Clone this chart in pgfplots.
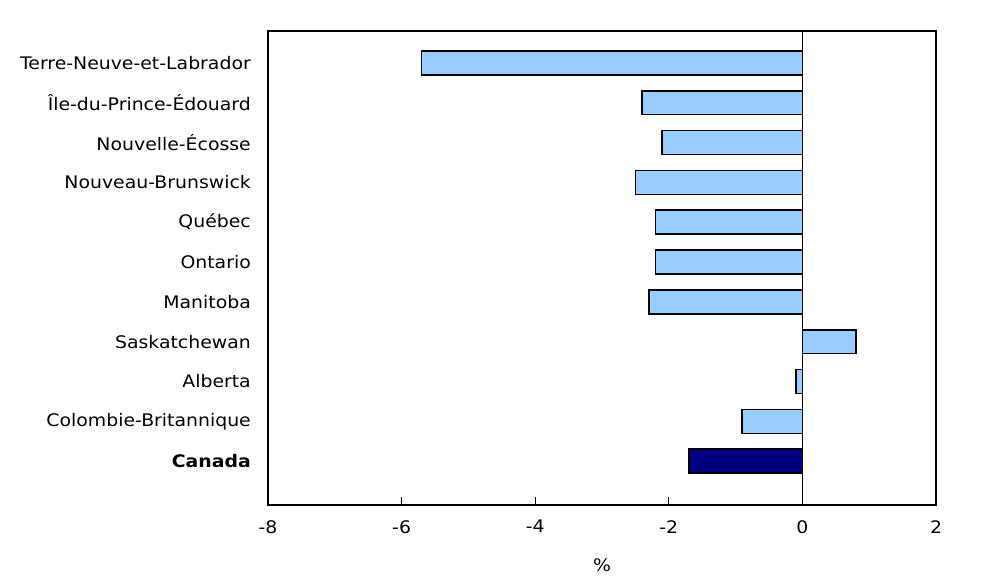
\documentclass[border=0pt]{standalone}
\usepackage{fontspec}
\setmainfont{DejaVu Sans}[FakeStretch=1.09]
\usepackage{pgfplots}
\pgfplotsset{compat=1.18}
\definecolor{lightbar}{HTML}{99CCFF}
\definecolor{darkbar}{HTML}{000080}
\begin{document}
\begin{tikzpicture}
\useasboundingbox (0,0) rectangle (995pt,578pt);
\begin{axis}[
  at={(268pt,73pt)}, anchor=south west,
  scale only axis, width=668pt, height=474pt,
  xmin=-8, xmax=2, ymin=-1.1, ymax=10.8,
  axis line style={line width=1.6pt},
  xtick={-8,-6,-4,-2,0,2},
  xticklabels={-8,-6,-4,-2,0,2},
  xtick pos=bottom, tick align=inside,
  major tick length=8pt,
  xtick style={line width=1.2pt, black},
  ytick={0,...,10},
  yticklabels={\textbf{Canada},Colombie-Britannique,Alberta,Saskatchewan,Manitoba,Ontario,Québec,Nouveau-Brunswick,Nouvelle-Écosse,Île-du-Prince-Édouard,Terre-Neuve-et-Labrador},
  ytick style={draw=none},
  yticklabel style={font=\fontsize{17.3}{20}\selectfont, inner sep=0pt, xshift=-9pt},
  xticklabel style={font=\fontsize{17.3}{20}\selectfont, inner sep=0pt, anchor=north, yshift=-15pt},
  xlabel={\%},
  xlabel style={font=\fontsize{17.3}{20}\selectfont, at={(axis description cs:0.5,0)}, anchor=north, inner sep=0pt, yshift=-53pt},
  extra x ticks={0}, extra x tick labels={},
  extra x tick style={grid=major, major grid style={black, line width=1.3pt}, major tick length=0pt},
  xbar, bar width=0.6,
  clip=false,
]
\addplot[xbar, bar shift=0pt, fill=lightbar, draw=black, line width=1.6pt] coordinates {
  (-0.9,1) (-0.1,2) (0.8,3) (-2.3,4) (-2.2,5) (-2.2,6) (-2.5,7) (-2.1,8) (-2.4,9) (-5.7,10)
};
\addplot[xbar, bar shift=0pt, fill=darkbar, draw=black, line width=1.6pt] coordinates {
  (-1.7,0)
};
\end{axis}
\end{tikzpicture}
\end{document}
